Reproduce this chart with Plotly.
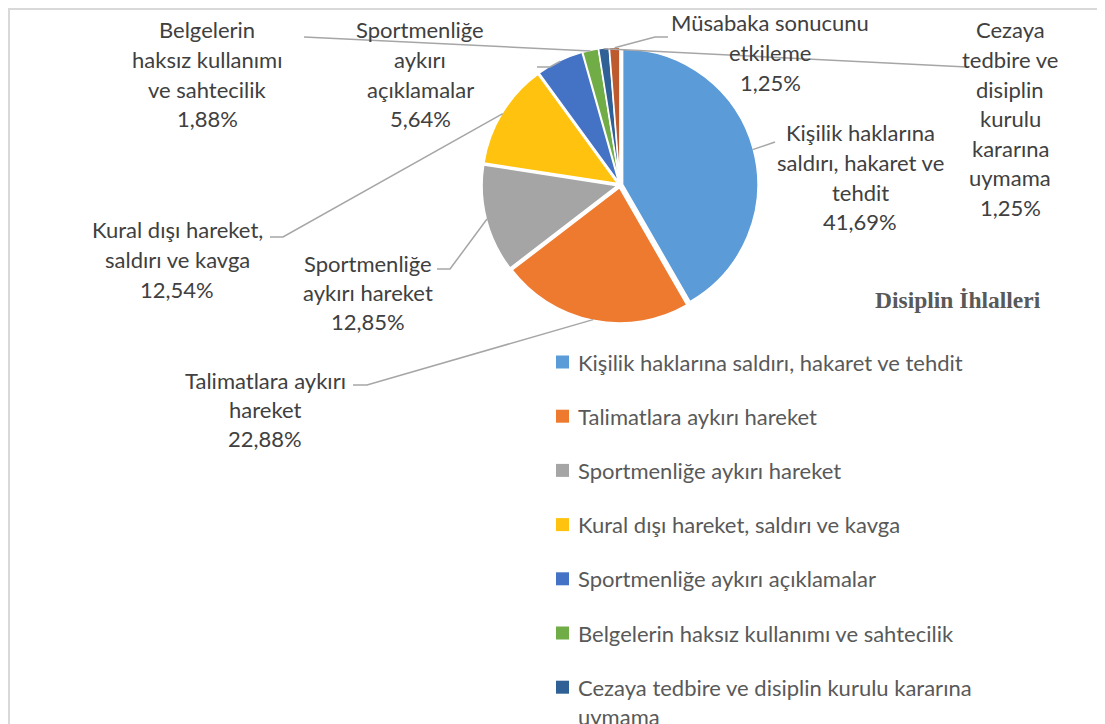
import math
import plotly.graph_objects as go

# ---------------- data ----------------
categories = [
    "Kişilik haklarına saldırı, hakaret ve tehdit",
    "Talimatlara aykırı hareket",
    "Sportmenliğe aykırı hareket",
    "Kural dışı hareket, saldırı ve kavga",
    "Sportmenliğe aykırı açıklamalar",
    "Belgelerin haksız kullanımı ve sahtecilik",
    "Cezaya tedbire ve disiplin kurulu kararına uymama",
    "Müsabaka sonucunu etkileme",
]
values = [41.69, 22.88, 12.85, 12.54, 5.64, 1.88, 1.25, 1.25]

# wrapped category text used in the outside data labels
label_lines = [
    ["Kişilik haklarına", "saldırı, hakaret ve", "tehdit"],
    ["Talimatlara aykırı", "hareket"],
    ["Sportmenliğe", "aykırı hareket"],
    ["Kural dışı hareket,", "saldırı ve kavga"],
    ["Sportmenliğe", "aykırı", "açıklamalar"],
    ["Belgelerin", "haksız kullanımı", "ve sahtecilik"],
    ["Cezaya", "tedbire ve", "disiplin", "kurulu", "kararına", "uymama"],
    ["Müsabaka sonucunu", "etkileme"],
]
# wrapped category text used in the legend
legend_lines = [
    ["Kişilik haklarına saldırı, hakaret ve tehdit"],
    ["Talimatlara aykırı hareket"],
    ["Sportmenliğe aykırı hareket"],
    ["Kural dışı hareket, saldırı ve kavga"],
    ["Sportmenliğe aykırı açıklamalar"],
    ["Belgelerin haksız kullanımı ve sahtecilik"],
    ["Cezaya tedbire ve disiplin kurulu kararına", "uymama"],
    ["Müsabaka sonucunu etkileme"],
]
legend_title = "Disiplin İhlalleri"

# ---------------- style / layout ----------------
colors = ["#5B9BD8", "#EE7A30", "#A5A5A5", "#FFC20E",
          "#4472C4", "#70AD47", "#2F6096", "#BE5B2E"]

W, H = 1105, 724
OFF = 8                               # page body margin of the browser
CX, CY, HALF = 620, 185, 138          # pie center & half-size of domain (screen px)
PULL = 0.02
LINE_H = 29.5
TEXT_COLOR = "#404040"
LEG_COLOR = "#595959"
FONT = "Lato"
FSIZE = 22

# label placement (center x px, first-line y px), screen coordinates
label_pos = [(860, 133), (265, 380), (368, 263), (177, 230),
             (420, 30), (207, 30), (1010, 30), (770, 23)]
# leader line points on the label side (px), ending near the slice
leader_pts = [
    [(775, 142)],
    [(353, 385), (367, 385)],
    [(437, 269), (450, 269)],
    [(270, 237), (283, 237)],
    [(537, 67), (550, 67)],
    [(304, 37)],
    [(967, 67)],
    [(668, 37), (655, 37)],
]


def px(x):
    return (x - OFF) / W


def py(y):
    return 1 - (y - OFF) / H


fig = go.Figure()
fig.add_trace(go.Pie(
    labels=categories,
    values=values,
    sort=False,
    direction="clockwise",
    rotation=0,
    pull=[PULL] * len(values),
    marker=dict(colors=colors, line=dict(color="white", width=1.5)),
    textinfo="none",
    hoverinfo="label+percent",
    showlegend=False,
    domain=dict(x=[px(CX - HALF), px(CX + HALF)],
                y=[py(CY + HALF), py(CY - HALF)]),
))

annotations = []
shapes = []

# border (open at the bottom, as in the reference)
shapes.append(dict(type="path", xref="paper", yref="paper",
                   path=f"M {px(9)},{py(760)} L {px(9)},{py(9)} L {px(1099)},{py(9)} L {px(1099)},{py(760)}",
                   line=dict(color="#D9D9D9", width=2)))

# data labels + leader lines
total = sum(values)
r_pix = HALF / (1 + PULL) + 2
cum = 0.0
for i, v in enumerate(values):
    mid = (cum + v / 2) / total
    cum += v
    ang = 2 * math.pi * mid
    sx = CX + r_pix * math.sin(ang)
    sy = CY - r_pix * math.cos(ang)

    pct = f"{v:.2f}".replace(".", ",") + "%"
    lines = label_lines[i] + [pct]
    lx, ly = label_pos[i]
    for j, t in enumerate(lines):
        annotations.append(dict(
            x=px(lx), y=py(ly + j * LINE_H), xref="paper", yref="paper",
            text=t, showarrow=False, xanchor="center", yanchor="middle",
            font=dict(family=FONT, size=FSIZE, color=TEXT_COLOR)))

    pts = leader_pts[i] + [(sx, sy)]
    path = "M " + " L ".join(f"{px(a)},{py(b)}" for a, b in pts)
    shapes.append(dict(type="path", xref="paper", yref="paper", path=path,
                       line=dict(color="#A6A6A6", width=1.5)))

# legend title
annotations.append(dict(x=px(958), y=py(300), xref="paper", yref="paper",
                        text=f"<b>{legend_title}</b>", showarrow=False,
                        xanchor="center", yanchor="middle",
                        font=dict(family="Liberation Serif", size=23.5, color=LEG_COLOR)))

# manual legend
LEG_Y0, LEG_STEP = 362, 54.2
for i, c in enumerate(colors):
    yc = LEG_Y0 + i * LEG_STEP
    shapes.append(dict(type="rect", xref="paper", yref="paper",
                       x0=px(556), x1=px(569), y0=py(yc + 6.5), y1=py(yc - 6.5),
                       fillcolor=c, line=dict(width=0)))
    for j, t in enumerate(legend_lines[i]):
        annotations.append(dict(
            x=px(576), y=py(yc + j * 29), xref="paper", yref="paper",
            text=t, showarrow=False, xanchor="left", yanchor="middle",
            font=dict(family=FONT, size=FSIZE, color=LEG_COLOR)))

fig.update_layout(
    width=W, height=H,
    margin=dict(l=0, r=0, t=0, b=0),
    paper_bgcolor="white", plot_bgcolor="white",
    annotations=annotations,
    shapes=shapes,
    showlegend=False,
)

fig.write_html("out.html")
